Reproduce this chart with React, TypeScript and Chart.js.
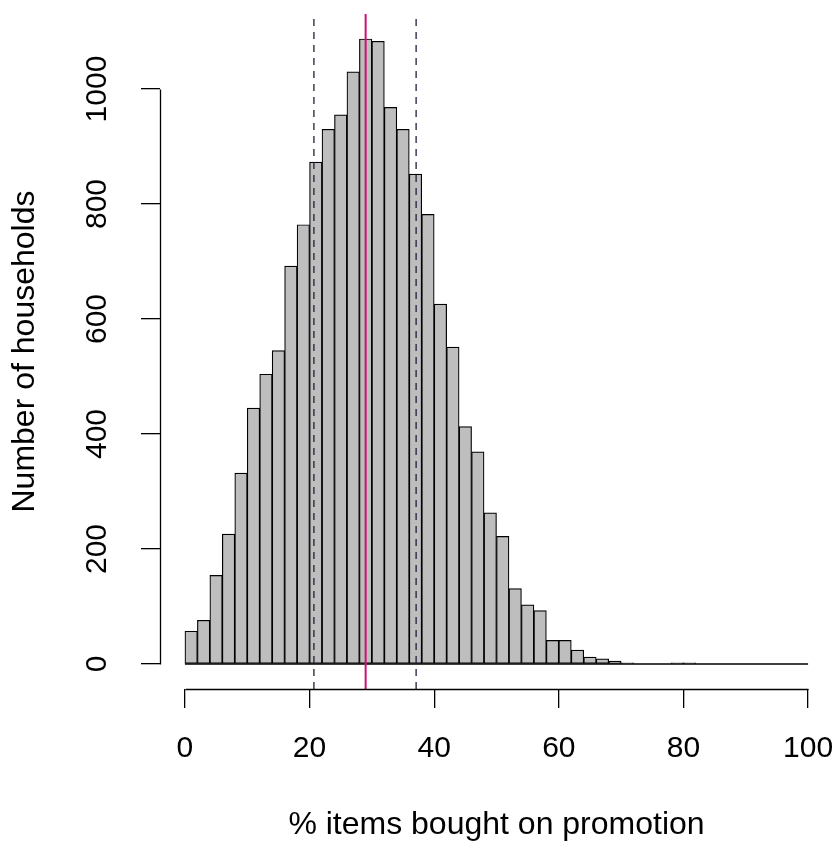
import React, { useEffect, useRef } from 'react';
import { Chart, registerables } from 'chart.js';

Chart.register(...registerables);

// ---- data ----
const binLeft = [
  0, 2, 4, 6, 8, 10, 12, 14, 16, 18,
  20, 22, 24, 26, 28, 30, 32, 34, 36, 38,
  40, 42, 44, 46, 48, 50, 52, 54, 56, 58,
  60, 62, 64, 66, 68, 70, 72, 74, 76, 78,
  80, 82, 84, 86, 88, 90, 92, 94, 96, 98,
];
const binWidth = 2;
const counts = [
  57, 76, 154, 226, 332, 445, 504, 545, 692, 764,
  873, 930, 955, 1030, 1087, 1083, 968, 930, 852, 782,
  626, 551, 413, 369, 263, 222, 131, 103, 93, 41,
  41, 24, 12, 9, 5, 2, 0, 0, 0, 2,
  2, 0, 0, 0, 0, 0, 0, 0, 0, 0,
];
const xTicks = [0, 20, 40, 60, 80, 100];
const yTicks = [0, 200, 400, 600, 800, 1000];
const quantileLines = [20.7, 37.1];
const meanLine = [29.0];
const xTitle = '% items bought on promotion';
const yTitle = 'Number of households';

// R-style axis ranges (4% extension)
const xLo = binLeft[0];
const xHi = binLeft[binLeft.length - 1] + binWidth;
const xMin = xLo - 0.04 * (xHi - xLo);
const xMax = xHi + 0.04 * (xHi - xLo);
const yTop = Math.max(...counts);
const yMin = -0.04 * yTop;
const yMax = yTop * 1.04;

const FONT = "'Liberation Sans', Arial, Helvetica, sans-serif";

const rAxisLines = {
  id: 'rAxisLines',
  afterDraw(chart: any) {
    const { ctx, scales, chartArea } = chart;
    const x = scales.x;
    const y = scales.y;
    ctx.save();
    ctx.strokeStyle = '#000';
    ctx.lineWidth = 1.3;
    ctx.beginPath();
    const yPix = Math.round(chartArea.bottom) + 0.5;
    ctx.moveTo(Math.round(x.getPixelForValue(xTicks[0])) + 0.5, yPix);
    ctx.lineTo(Math.round(x.getPixelForValue(xTicks[xTicks.length - 1])) + 0.5, yPix);
    const xPix = Math.round(chartArea.left) + 0.5;
    ctx.moveTo(xPix, Math.round(y.getPixelForValue(yTicks[0])) + 0.5);
    ctx.lineTo(xPix, Math.round(y.getPixelForValue(yTicks[yTicks.length - 1])) + 0.5);
    ctx.stroke();
    ctx.restore();
  },
};

export default function App() {
  const ref = useRef<HTMLCanvasElement | null>(null);

  useEffect(() => {
    if (!ref.current) return;
    const barData = counts.map((c, i) => ({ x: binLeft[i] + binWidth / 2, y: c }));
    const vline = (v: number) => [
      { x: v, y: yMin },
      { x: v, y: yMax },
    ];
    const chart = new Chart(ref.current, {
      type: 'bar',
      data: {
        datasets: [
          {
            type: 'line',
            label: 'mean',
            data: vline(meanLine[0]),
            borderColor: '#cd1076',
            borderWidth: 2,
            pointRadius: 0,
            order: 0,
          } as any,
          ...quantileLines.map((q, i) => ({
            type: 'line',
            label: 'q' + i,
            data: vline(q),
            borderColor: '#20203a',
            borderWidth: 1.3,
            borderDash: [7, 6],
            pointRadius: 0,
            order: 1,
          })) as any,
          {
            type: 'line',
            label: 'base',
            data: [
              { x: xLo, y: 0 },
              { x: xHi, y: 0 },
            ],
            borderColor: '#000',
            borderWidth: 1.3,
            pointRadius: 0,
            order: 2,
          } as any,
          {
            type: 'bar',
            label: 'households',
            data: barData,
            backgroundColor: '#bebebe',
            borderColor: '#000',
            borderWidth: 1.2,
            borderSkipped: false,
            barPercentage: 1,
            categoryPercentage: 1,
            order: 3,
          } as any,
        ],
      },
      options: {
        animation: false,
        responsive: false,
        devicePixelRatio: 1,
        layout: { padding: { top: 14, right: 4, bottom: 0, left: 0 } },
        plugins: { legend: { display: false }, tooltip: { enabled: false } },
        scales: {
          x: {
            type: 'linear',
            min: xMin,
            max: xMax,
            offset: false,
            afterBuildTicks: (s: any) => {
              s.ticks = xTicks.map((v) => ({ value: v }));
            },
            afterFit: (s: any) => {
              s.height = 152;
              s.paddingLeft = 0;
              s.paddingRight = 0;
            },
            grid: {
              display: true,
              offset: false,
              drawOnChartArea: false,
              drawTicks: true,
              tickLength: 19,
              color: '#000',
              lineWidth: 1.3,
            },
            border: { display: false },
            ticks: {
              autoSkip: false,
              maxRotation: 0,
              minRotation: 0,
              padding: 23,
              color: '#000',
              font: { family: FONT, size: 30, lineHeight: 1.2 },
              callback: (v: any) => String(v),
            },
            title: {
              display: true,
              text: xTitle,
              color: '#000',
              font: { family: FONT, size: 32, lineHeight: 1 },
              padding: { top: 0, bottom: 0 },
            },
          },
          y: {
            type: 'linear',
            min: yMin,
            max: yMax,
            afterBuildTicks: (s: any) => {
              s.ticks = yTicks.map((v) => ({ value: v }));
            },
            afterFit: (s: any) => {
              s.width = 160;
              s.paddingTop = 0;
              s.paddingBottom = 0;
            },
            grid: {
              display: true,
              drawOnChartArea: false,
              drawTicks: true,
              tickLength: 19,
              color: '#000',
              lineWidth: 1.3,
            },
            border: { display: false },
            ticks: {
              autoSkip: false,
              minRotation: 90,
              maxRotation: 90,
              crossAlign: 'center',
              padding: 10,
              color: '#000',
              font: { family: FONT, size: 30, lineHeight: 1.2 },
              callback: (v: any) => String(v),
            },
            title: {
              display: true,
              text: yTitle,
              color: '#000',
              font: { family: FONT, size: 32, lineHeight: 1 },
              padding: { top: 9, bottom: 0 },
            },
          },
        },
      },
      plugins: [rAxisLines],
    });
    return () => chart.destroy();
  }, []);

  return (
    <canvas
      ref={ref}
      width={837}
      height={841}
      style={{ position: 'fixed', left: 0, top: 0, display: 'block', background: '#fff' }}
    />
  );
}
